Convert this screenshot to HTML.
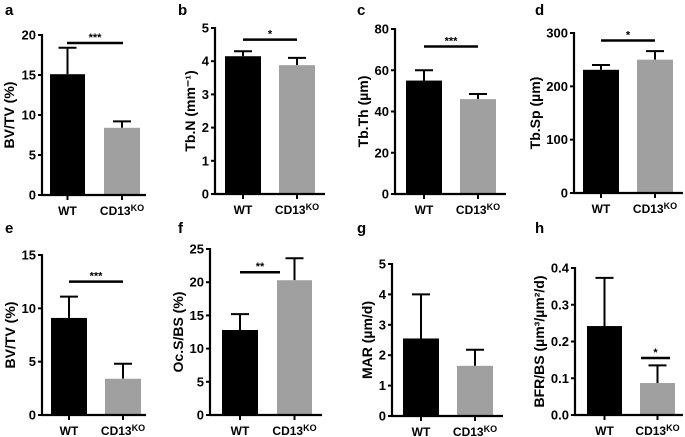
<!DOCTYPE html>
<html><head><meta charset="utf-8"><style>
body{margin:0;background:#fff}
svg{display:block;font-family:"Liberation Sans",Arial,sans-serif;font-weight:bold}
</style></head><body>
<svg id="fig" width="685" height="437" viewBox="0 0 685 437"></svg>
<script>
const categories = ["WT", "CD13KO"];
const panelLetters = ["a","b","c","d","e","f","g","h"];
const yTitles = ["BV/TV (%)","Tb.N (mm⁻¹)","Tb.Th (µm)","Tb.Sp (µm)","BV/TV (%)","Oc.S/BS (%)","MAR (µm/d)","BFR/BS (µm³/µm²/d)"];
const meansWT = [15.1, 4.15, 55, 231, 9.1, 12.8, 2.55, 0.242];
const meansKO = [8.4, 3.88, 46, 250, 3.4, 20.3, 1.65, 0.087];
const errTopWT = [18.4, 4.3, 60, 240, 11.1, 15.2, 4.0, 0.373];
const errTopKO = [9.2, 4.1, 48.5, 266, 4.8, 23.6, 2.18, 0.135];
const yMax = [20, 5, 80, 300, 15, 25, 5, 0.4];
const yStep = [5, 1, 20, 100, 5, 5, 1, 0.1];
const sigLabels = ["***","*","***","*","***","**","","*"];
const sigValues = [19, 4.65, 71.5, 286, 12.5, 21.5, null, 0.155];

// layout (not data)
const L = [
 {ax:42,top:35,bot:195,end:146,b1:[50,85],b2:[104,140],sig:[67,123],lx:5,ly:15,dec:0,tt:28},
 {ax:215,top:28,bot:194,end:325,b1:[225,261],b2:[279,315],sig:[243,297],lx:178,ly:15,dec:0,tt:20},
 {ax:395,top:29,bot:194,end:506,b1:[406,442],b2:[460,496],sig:[424,478],lx:357,ly:15,dec:0,tt:27},
 {ax:574,top:33,bot:193,end:683,b1:[583,619],b2:[637,673],sig:[601,655],lx:535,ly:15,dec:0,tt:34},
 {ax:42,top:255,bot:415,end:146,b1:[51,87],b2:[105,141],sig:[69,123],lx:5,ly:233,dec:0,tt:27},
 {ax:210,top:249,bot:415,end:322,b1:[222,258],b2:[277,312],sig:[240,280],lx:178,ly:233,dec:0,tt:27},
 {ax:392,top:264,bot:416,end:503,b1:[403,439],b2:[457,493],sig:null,lx:357,ly:233,dec:0,tt:20},
 {ax:575,top:268,bot:415,end:683,b1:[587,622],b2:[640,675],sig:[641,670],lx:535,ly:233,dec:1,tt:31}
];
const svg=document.getElementById('fig');
const NS='http://www.w3.org/2000/svg';
function mk(tag,attrs,parent){const e=document.createElementNS(NS,tag);for(const k in attrs)e.setAttribute(k,attrs[k]);(parent||svg).appendChild(e);return e;}
for(let i=0;i<8;i++){
  const l=L[i];
  const g=mk('g',{});
  
  
  const y=v=>l.bot-(v/yMax[i])*(l.bot-l.top);
  const lt=mk('text',{x:l.lx,y:l.ly,'font-size':15,fill:'#000'},g);lt.textContent=panelLetters[i];
  
  const bars=[[l.b1,meansWT[i],errTopWT[i],'#000'],[l.b2,meansKO[i],errTopKO[i],'#a0a0a0']];
  bars.forEach((b,j)=>{
    const [xs,m,e,c]=b;const cx=(xs[0]+xs[1])/2;
    const eb=mk('line',{x1:cx,x2:cx,y1:y(m),y2:y(e),stroke:'#000','stroke-width':2},g);
    
    const cap=mk('line',{x1:cx-9,x2:cx+9,y1:y(e),y2:y(e),stroke:'#000','stroke-width':2},g);
    
    const r=mk('rect',{x:xs[0],y:y(m),width:xs[1]-xs[0],height:l.bot-y(m),fill:c},g);
    
    mk('line',{x1:cx,x2:cx,y1:l.bot,y2:l.bot+5,stroke:'#000','stroke-width':2},g);
    const t=mk('text',{x:cx,y:l.bot+20,'text-anchor':'middle','font-size':12},g);
    
    if(j===0)t.textContent=categories[0];
    else{t.textContent='CD13';const s=mk('tspan',{'font-size':9,dy:-4},t);s.textContent='KO';}
  });
  const ya=mk('line',{x1:l.ax,x2:l.ax,y1:l.top-1,y2:l.bot+1,stroke:'#000','stroke-width':2.2},g);
  
  const xa=mk('line',{x1:l.ax-1,x2:l.end,y1:l.bot,y2:l.bot,stroke:'#000','stroke-width':2.2},g);
  
  for(let v=0;v<=yMax[i]+1e-9;v+=yStep[i]){
    mk('line',{x1:l.ax-4,x2:l.ax,y1:y(v),y2:y(v),stroke:'#000','stroke-width':2},g);
    const t=mk('text',{x:l.ax-6,y:y(v)+4.5,'text-anchor':'end','font-size':13},g);
    t.textContent=l.dec?v.toFixed(1):Math.round(v);
    
  }
  const tx=l.ax-l.tt, ty=(l.top+l.bot)/2;
  const yt=mk('text',{x:tx,y:ty,'text-anchor':'middle','font-size':14,transform:`rotate(-90 ${tx} ${ty})`},g);
  yt.textContent=yTitles[i];
  
  if(l.sig){
    const sy=y(sigValues[i]);
    const sl=mk('line',{x1:l.sig[0],x2:l.sig[1],y1:sy,y2:sy,stroke:'#000','stroke-width':2.5},g);
    
    const st=mk('text',{x:(l.sig[0]+l.sig[1])/2,y:sy-2,'text-anchor':'middle','font-size':11},g);
    st.textContent=sigLabels[i];
    
  }
}
</script>
</body></html>
